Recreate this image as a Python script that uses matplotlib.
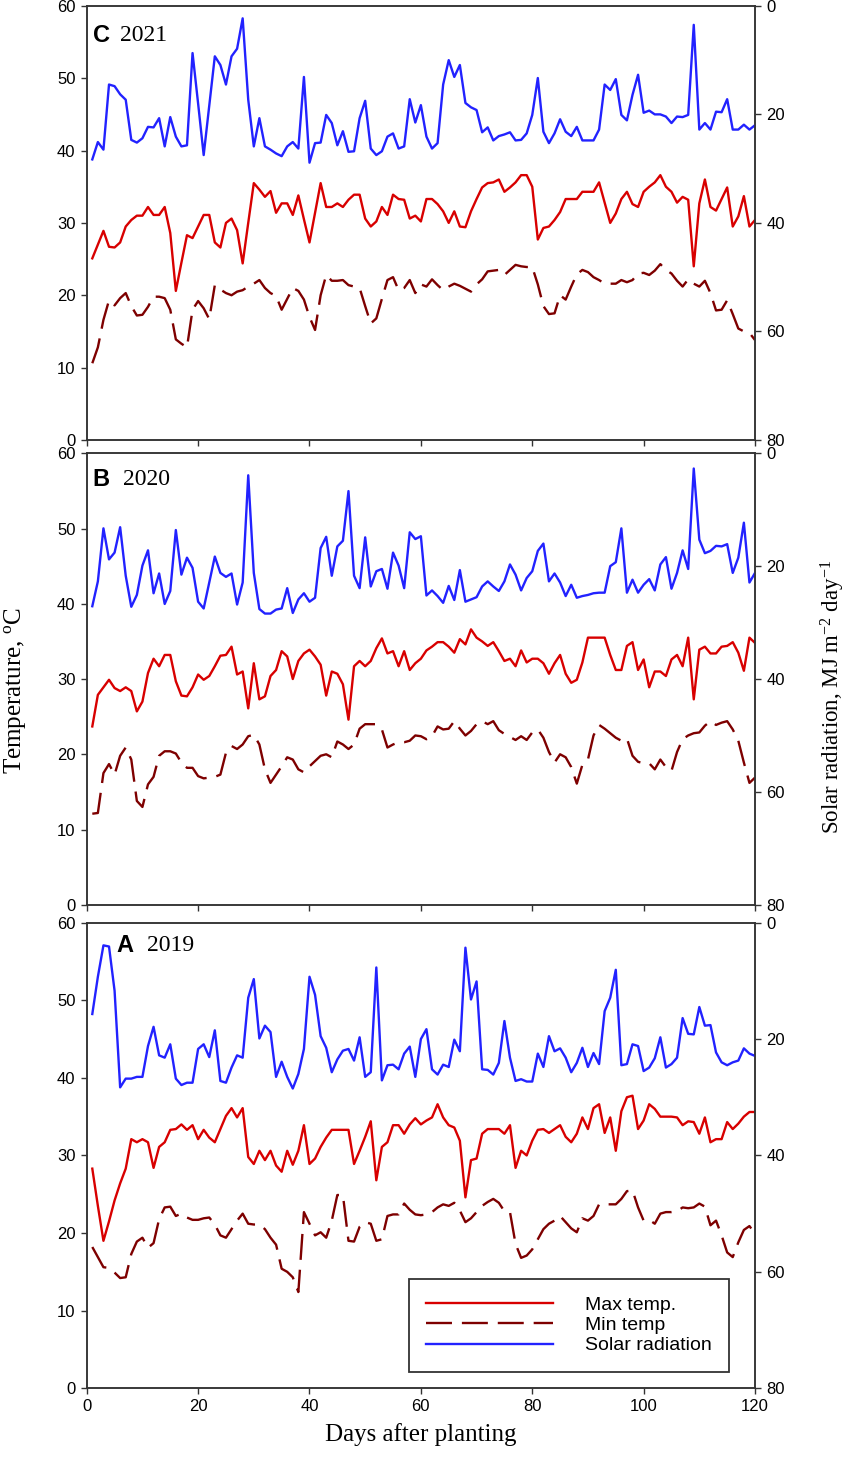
import numpy as np
import matplotlib
matplotlib.use("Agg")
import matplotlib.pyplot as plt
from matplotlib.lines import Line2D

plt.rcParams['font.family'] = 'Liberation Sans'
plt.rcParams['mathtext.fontset'] = 'custom'
plt.rcParams['mathtext.rm'] = 'Liberation Serif'
plt.rcParams['mathtext.it'] = 'Liberation Serif:italic'

# days after planting
days = np.arange(1, 121)

# 2021 (panel C)
tmax_2021 = [25.1, 27.0, 28.9, 26.7, 26.6, 27.3, 29.5, 30.4, 31.0, 31.0,
             32.2, 31.1, 31.1, 32.2, 28.6, 20.6, 24.5, 28.3, 27.9, 29.5,
             31.1, 31.1, 27.3, 26.6, 30.0, 30.6, 29.0, 24.4, 30.0, 35.5,
             34.6, 33.6, 34.4, 31.4, 32.7, 32.7, 31.1, 33.8, 30.5, 27.3,
             31.4, 35.5, 32.2, 32.2, 32.7, 32.2, 33.2, 33.9, 33.9, 30.6,
             29.5, 30.2, 32.2, 31.1, 33.9, 33.3, 33.2, 30.6, 31.0, 30.2,
             33.3, 33.3, 32.6, 31.6, 30.0, 31.6, 29.5, 29.4, 31.6, 33.3,
             34.9, 35.5, 35.6, 36.0, 34.3, 34.9, 35.6, 36.6, 36.6, 35.0,
             27.7, 29.3, 29.5, 30.4, 31.5, 33.3, 33.3, 33.3, 34.3, 34.3,
             34.3, 35.6, 32.8, 30.0, 31.3, 33.3, 34.3, 32.6, 32.2, 34.3,
             35.0, 35.6, 36.6, 35.0, 34.3, 32.8, 33.6, 33.2, 24.0, 32.7,
             36.0, 32.2, 31.7, 33.3, 34.9, 29.5, 30.9, 33.7, 29.5, 30.4]
tmin_2021 = [10.6, 12.8, 16.6, 19.3, 18.6, 19.6, 20.3, 18.5, 17.2, 17.3,
             18.4, 19.8, 19.8, 19.6, 18.0, 13.9, 13.3, 12.8, 18.0, 19.2,
             18.2, 16.7, 21.4, 20.8, 20.3, 20.0, 20.5, 20.7, 21.2, 21.6,
             22.1, 21.0, 20.3, 19.9, 18.0, 19.5, 21.0, 20.6, 19.4, 17.0,
             15.2, 20.0, 22.8, 22.0, 22.0, 22.1, 21.4, 21.2, 21.0, 18.5,
             16.1, 16.8, 19.5, 22.1, 22.5, 20.7, 21.0, 22.1, 20.3, 21.5,
             21.2, 22.2, 21.4, 20.7, 21.2, 21.6, 21.3, 20.9, 20.5, 21.5,
             22.2, 23.3, 23.4, 23.5, 22.8, 23.5, 24.2, 24.0, 23.9, 23.9,
             21.5, 18.5, 17.4, 17.5, 20.0, 19.4, 21.2, 22.9, 23.5, 23.2,
             22.5, 22.1, 21.6, 21.6, 21.6, 22.1, 21.8, 22.1, 23.0, 23.1,
             22.8, 23.4, 24.3, 23.5, 23.0, 22.0, 21.2, 22.2, 21.6, 21.2,
             22.0, 20.3, 17.9, 18.0, 19.3, 17.4, 15.4, 15.0, 14.8, 13.8]
srad_2021 = [28.3, 25.1, 26.5, 14.5, 14.8, 16.3, 17.3, 24.7, 25.2, 24.4,
             22.3, 22.4, 20.7, 25.9, 20.5, 24.1, 25.9, 25.7, 8.7, 18.0,
             27.5, 18.4, 9.3, 10.9, 14.5, 9.3, 7.9, 2.3, 17.3, 25.9,
             20.7, 25.9, 26.5, 27.2, 27.7, 25.9, 25.1, 26.3, 13.1, 28.9,
             25.3, 25.2, 20.1, 21.6, 25.7, 23.1, 26.9, 26.8, 20.7, 17.5,
             26.3, 27.5, 26.8, 24.1, 23.5, 26.3, 25.9, 17.2, 21.5, 18.3,
             24.1, 26.3, 25.3, 14.5, 10.0, 13.1, 10.9, 17.9, 18.7, 19.2,
             23.3, 22.4, 24.8, 24.0, 23.7, 23.3, 24.8, 24.7, 23.5, 20.1,
             13.3, 23.2, 25.3, 23.5, 20.9, 23.2, 24.0, 22.3, 24.8, 24.8,
             24.8, 22.8, 14.5, 15.5, 13.5, 20.1, 21.1, 16.4, 12.7, 19.7,
             19.3, 20.0, 20.0, 20.4, 21.6, 20.4, 20.5, 20.1, 3.5, 22.8,
             21.6, 22.8, 19.5, 19.6, 17.2, 22.8, 22.8, 21.9, 22.8, 22.0]

# 2020 (panel B)
tmax_2020 = [23.7, 27.9, 28.9, 29.9, 28.8, 28.4, 28.9, 28.4, 25.7, 27.0,
             30.8, 32.7, 31.7, 33.2, 33.2, 29.7, 27.8, 27.7, 28.9, 30.6,
             29.9, 30.4, 31.7, 33.1, 33.2, 34.3, 30.6, 31.0, 26.1, 32.1,
             27.3, 27.7, 30.4, 31.2, 33.7, 33.0, 30.0, 32.4, 33.4, 33.9,
             33.0, 31.9, 27.8, 31.0, 30.7, 29.3, 24.6, 31.7, 32.4, 31.7,
             32.4, 34.1, 35.4, 33.4, 33.7, 31.7, 33.7, 31.2, 32.1, 32.7,
             33.8, 34.3, 34.9, 34.9, 34.3, 33.5, 35.3, 34.6, 36.6, 35.5,
             35.0, 34.4, 34.9, 33.7, 32.4, 32.7, 31.7, 33.8, 32.2, 32.7,
             32.7, 32.1, 30.7, 32.1, 33.2, 30.7, 29.5, 29.9, 32.2, 35.5,
             35.5, 35.5, 35.5, 33.2, 31.2, 31.2, 34.4, 34.9, 31.2, 32.6,
             28.9, 31.0, 31.0, 30.4, 32.6, 33.2, 31.7, 35.5, 27.3, 33.9,
             34.3, 33.4, 33.4, 34.3, 34.4, 34.9, 33.5, 31.1, 35.5, 34.8]
tmin_2020 = [12.1, 12.2, 17.5, 18.7, 17.3, 19.8, 20.9, 19.3, 13.8, 13.0,
             16.0, 17.0, 19.8, 20.4, 20.4, 20.1, 18.9, 18.2, 18.2, 17.1,
             16.8, 16.9, 17.0, 17.3, 20.2, 21.1, 20.7, 21.3, 22.4, 22.6,
             21.3, 18.0, 16.2, 17.3, 18.4, 19.6, 19.3, 18.0, 17.6, 18.4,
             19.1, 19.8, 20.0, 19.6, 21.7, 21.3, 20.7, 21.3, 23.4, 24.0,
             24.0, 24.0, 23.3, 20.9, 21.3, 21.6, 21.6, 21.8, 22.5, 22.4,
             22.0, 22.4, 23.7, 23.3, 23.4, 24.4, 23.4, 22.5, 23.1, 24.0,
             24.4, 24.0, 24.4, 23.2, 22.7, 22.3, 21.9, 22.4, 21.9, 22.9,
             23.3, 22.2, 20.3, 18.9, 20.0, 19.6, 18.3, 16.1, 18.6, 19.3,
             22.5, 23.9, 23.4, 22.8, 22.2, 21.8, 22.1, 19.8, 19.0, 18.8,
             18.8, 18.0, 19.3, 18.3, 17.8, 20.3, 22.0, 22.5, 22.8, 22.9,
             23.8, 24.4, 23.9, 24.2, 24.4, 23.3, 21.8, 18.9, 16.2, 16.9]
srad_2020 = [27.1, 22.7, 13.3, 18.8, 17.6, 13.1, 21.7, 27.2, 25.1, 19.9,
             17.2, 24.8, 21.3, 26.7, 24.4, 13.6, 21.5, 18.5, 20.3, 26.3,
             27.5, 22.9, 18.3, 21.2, 21.9, 21.3, 26.8, 22.9, 3.9, 21.2,
             27.6, 28.4, 28.4, 27.7, 27.5, 23.9, 28.3, 25.9, 24.8, 26.3,
             25.6, 16.8, 14.8, 21.7, 16.5, 15.5, 6.7, 21.7, 23.9, 14.9,
             23.6, 20.9, 20.5, 24.0, 17.6, 19.9, 23.9, 14.0, 15.2, 14.7,
             25.2, 24.3, 25.3, 26.5, 23.5, 26.0, 20.7, 26.3, 25.9, 25.5,
             23.6, 22.7, 23.6, 24.4, 22.7, 19.7, 21.5, 24.3, 22.1, 20.9,
             17.3, 16.0, 22.7, 21.3, 22.9, 25.3, 23.3, 25.6, 25.3, 25.1,
             24.8, 24.7, 24.7, 20.0, 19.3, 13.3, 24.7, 22.4, 24.7, 23.3,
             22.3, 24.3, 19.7, 18.4, 24.0, 21.2, 17.2, 20.5, 2.7, 15.3,
             17.7, 17.3, 16.4, 16.5, 16.1, 21.2, 18.5, 12.3, 22.9, 21.2]

# 2019 (panel A)
tmax_2019 = [28.3, 23.5, 19.0, 21.5, 24.2, 26.4, 28.3, 32.1, 31.7, 32.1,
             31.7, 28.4, 31.1, 31.7, 33.3, 33.4, 34.0, 33.3, 33.9, 32.1,
             33.3, 32.3, 31.7, 33.4, 35.1, 36.1, 34.9, 36.1, 29.8, 28.9,
             30.6, 29.4, 30.6, 28.7, 27.9, 30.6, 28.8, 30.6, 33.9, 28.9,
             29.6, 31.1, 32.3, 33.3, 33.3, 33.3, 33.3, 28.9, 30.6, 32.4,
             34.4, 26.8, 31.1, 31.7, 33.9, 33.9, 32.8, 34.0, 34.8, 34.0,
             34.5, 34.9, 36.6, 34.9, 33.9, 33.6, 31.9, 24.6, 29.4, 29.6,
             32.8, 33.4, 33.4, 33.4, 32.8, 33.9, 28.4, 30.6, 30.0, 31.9,
             33.3, 33.4, 32.9, 33.4, 33.9, 32.4, 31.7, 32.8, 34.9, 33.4,
             36.1, 36.6, 32.9, 34.9, 30.6, 35.7, 37.5, 37.7, 33.4, 34.5,
             36.6, 36.0, 35.0, 35.0, 35.0, 34.9, 33.9, 34.4, 34.3, 32.8,
             34.9, 31.7, 32.1, 32.1, 34.3, 33.4, 34.1, 35.0, 35.6, 35.6]
tmin_2019 = [18.2, 16.9, 15.6, 15.5, 14.9, 14.2, 14.3, 17.3, 18.9, 19.4,
             18.1, 18.7, 21.8, 23.3, 23.4, 22.2, 22.5, 22.0, 21.7, 21.7,
             21.9, 22.0, 21.1, 19.7, 19.4, 20.5, 21.6, 22.5, 21.2, 21.1,
             21.1, 20.5, 19.4, 18.5, 15.4, 15.0, 14.3, 12.4, 22.7, 21.2,
             19.7, 20.1, 19.4, 21.6, 24.9, 24.9, 19.0, 18.9, 20.8, 21.4,
             21.2, 19.0, 19.2, 22.2, 22.4, 22.4, 23.8, 23.0, 22.4, 22.3,
             22.4, 22.7, 23.3, 23.7, 23.5, 23.9, 22.9, 21.4, 21.9, 22.7,
             23.5, 24.0, 24.4, 23.9, 22.8, 22.7, 18.6, 16.8, 17.1, 17.9,
             19.2, 20.5, 21.2, 21.6, 22.2, 21.4, 20.6, 20.1, 21.9, 21.6,
             22.2, 23.7, 23.7, 23.7, 23.7, 24.4, 25.4, 25.5, 23.3, 21.6,
             21.7, 21.2, 22.5, 22.7, 22.7, 22.8, 23.3, 23.2, 23.3, 23.8,
             23.4, 21.0, 21.6, 19.7, 17.5, 16.9, 18.8, 20.4, 20.9, 19.9]
srad_2019 = [15.7, 9.3, 3.9, 4.1, 11.7, 28.3, 26.8, 26.8, 26.5, 26.5,
             21.2, 17.9, 22.8, 23.2, 20.9, 26.8, 27.9, 27.5, 27.5, 21.7,
             20.9, 23.1, 18.5, 27.2, 27.5, 24.9, 22.8, 23.2, 12.9, 9.7,
             19.9, 17.7, 18.8, 26.5, 23.9, 26.5, 28.5, 26.0, 21.7, 9.3,
             12.4, 19.5, 21.5, 25.7, 23.5, 22.0, 21.7, 23.7, 19.7, 26.5,
             25.7, 7.7, 27.1, 24.5, 24.4, 25.2, 22.5, 21.3, 26.5, 20.0,
             18.3, 25.2, 26.1, 24.4, 24.8, 20.1, 22.1, 4.3, 13.2, 10.1,
             25.2, 25.3, 26.1, 24.1, 16.9, 23.2, 27.2, 26.9, 27.3, 27.3,
             22.5, 24.8, 19.5, 22.1, 21.6, 23.2, 25.7, 24.1, 21.5, 24.8,
             22.4, 24.3, 15.2, 12.9, 8.1, 24.5, 24.3, 20.9, 21.2, 25.5,
             24.9, 23.3, 19.7, 24.9, 24.3, 23.2, 16.4, 19.1, 19.2, 14.5,
             17.7, 17.6, 22.3, 24.0, 24.5, 24.0, 23.7, 21.6, 22.5, 22.9]

RED = '#d80000'
DARKRED = '#7e0000'
BLUE = '#2222ff'
SERIF = 'Liberation Serif'
LW = 1.7
DASH = (11, 4.2)

fig = plt.figure(figsize=(8.47, 14.65), dpi=100)

# axes boxes [left, bottom, width, height] in figure fractions
left, width = 0.1024, 0.789
boxes = {'C': [left, 0.6997, width, 0.2963],
         'B': [left, 0.3824, width, 0.3082],
         'A': [left, 0.0524, width, 0.3178]}
panels = [('C', '2021', tmax_2021, tmin_2021, srad_2021, 0.009, 0.050, 0.931),
          ('B', '2020', tmax_2020, tmin_2020, srad_2020, 0.009, 0.054, 0.943),
          ('A', '2019', tmax_2019, tmin_2019, srad_2019, 0.044, 0.090, 0.950)]

for letter, year, tmax, tmin, srad, lx, yx, ty in panels:
    ax = fig.add_axes(boxes[letter])
    ax2 = ax.twinx()

    ax.plot(days, tmax, color=RED, lw=LW)
    ax.plot(days, tmin, color=DARKRED, lw=LW, dashes=DASH)
    ax2.plot(days, srad, color=BLUE, lw=LW)

    ax.set_xlim(0, 120)
    ax.set_ylim(0, 60)
    ax2.set_ylim(80, 0)
    ax.set_xticks(np.arange(0, 121, 20))
    ax.set_yticks(np.arange(0, 61, 10))
    ax2.set_yticks(np.arange(0, 81, 20))

    for a in (ax, ax2):
        a.tick_params(direction='out', length=4.5, width=1.0, labelsize=12,
                      color='#333333')
        for s in a.spines.values():
            s.set_linewidth(1.1)
            s.set_color('#333333')
    if letter != 'A':
        ax.tick_params(axis='x', labelbottom=False)

    ax.text(lx, ty, letter, transform=ax.transAxes, fontsize=17,
            fontweight='bold', va='center', ha='left')
    ax.text(yx, ty, year, transform=ax.transAxes, fontsize=17,
            family=SERIF, va='center', ha='left')

    if letter == 'A':
        handles = [Line2D([], [], color=RED, lw=LW),
                   Line2D([], [], color=DARKRED, lw=LW, dashes=DASH),
                   Line2D([], [], color=BLUE, lw=LW)]
        leg = ax2.legend(handles, ['Max temp.', 'Min temp', 'Solar radiation'],
                         loc='center', bbox_to_anchor=(0.7217, 0.135),
                         fontsize=14, handlelength=6.5, handletextpad=1.65,
                         labelspacing=0.13, borderpad=0.9, fancybox=False,
                         framealpha=1)
        leg.get_frame().set_edgecolor('#333333')
        leg.get_frame().set_linewidth(1.3)
        ax.set_xlabel('Days after planting', family=SERIF, fontsize=18,
                      labelpad=6)

fig.text(0.018, 0.529, 'Temperature, $^{\\rm o}$C', rotation=90,
         family=SERIF, fontsize=18, va='center', ha='center')
fig.text(0.983, 0.524, 'Solar radiation, MJ m$^{-2}$ day$^{-1}$', rotation=90,
         family=SERIF, fontsize=16.5, va='center', ha='center')

fig.savefig('out.png', dpi=100)
